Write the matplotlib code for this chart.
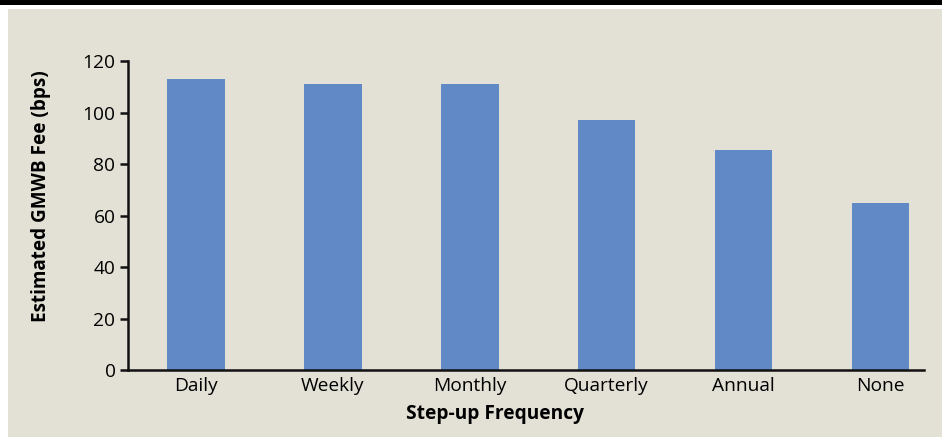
import matplotlib
matplotlib.use("Agg")
import matplotlib.pyplot as plt
from matplotlib.patches import Rectangle

categories = ["Daily", "Weekly", "Monthly", "Quarterly", "Annual", "None"]
fees_bps = [113, 111, 111, 97, 85.5, 65]
y_ticks = [0, 20, 40, 60, 80, 100, 120]

W, H = 942, 437
fig = plt.figure(figsize=(W / 100, H / 100), dpi=100, facecolor="white")

# framing: black rule at the top, beige panel behind the chart
fig.patches.append(Rectangle((0, 1 - 5 / H), 1, 5 / H, transform=fig.transFigure,
                             facecolor="black", edgecolor="none", zorder=-5))
fig.patches.append(Rectangle((8 / W, 0), 1 - 8 / W, 1 - 9 / H, transform=fig.transFigure,
                             facecolor="#E3E1D6", edgecolor="none", zorder=-5))

font = ["Open Sans", "DejaVu Sans"]
ax = fig.add_axes([128 / W, 1 - 370 / H, (924 - 128) / W, (370 - 61) / H])
ax.set_zorder(2)
ax.set_facecolor("none")

x = list(range(len(categories)))
ax.bar(x, fees_bps, width=0.42, color="#6089C6", zorder=2)

ax.set_ylim(0, 120)
ax.set_xlim(-0.497, 5.318)
ax.set_yticks(y_ticks)
ax.set_yticklabels([str(v) for v in y_ticks], family=font, fontsize=13.8)
ax.set_xticks(x)
ax.set_xticklabels(categories, family=font, fontsize=13.8)

for side in ("top", "right"):
    ax.spines[side].set_visible(False)
for side in ("left", "bottom"):
    ax.spines[side].set_linewidth(1.8)
    ax.spines[side].set_color("#111111")
    ax.spines[side].set_zorder(3)

ax.tick_params(axis="y", length=6, width=1.8, color="#111111", pad=3, labelcolor="black")
ax.tick_params(axis="x", length=0, pad=5, labelcolor="black")

ax.set_xlabel("Step-up Frequency", family=font, fontsize=13.8, fontweight="bold")
ax.set_ylabel("Estimated GMWB Fee (bps)", family=font, fontsize=13.6, fontweight="bold")
ax.xaxis.set_label_coords(0.461, -0.110)
ax.yaxis.set_label_coords(-0.097, 0.563)

fig.savefig("out.png", dpi=100, facecolor=fig.get_facecolor())
